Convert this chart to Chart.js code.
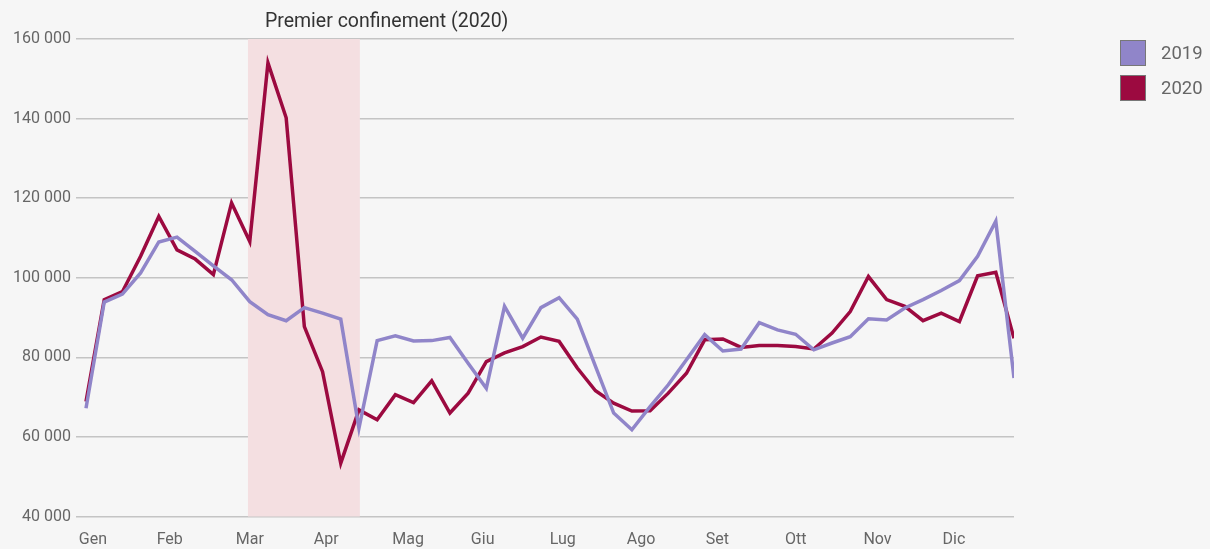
<!DOCTYPE html>
<html>
<head>
<meta charset="utf-8">
<script src="https://cdn.jsdelivr.net/npm/chart.js@4"></script>
<style>
    body { margin: 0; background: #f6f6f6; font-family: Roboto, sans-serif; }
    #wrap { position: relative; width: 1210px; height: 549px; }
    #legenda { position: absolute; left: 1120px; top: 40px; }
    .item { display: flex; align-items: center; height: 26px; margin-bottom: 9px; }
    .kotak { width: 26px; height: 26px; box-sizing: border-box; border: 1.5px solid #777; }
    .label { margin-left: 15px; font-size: 18.5px; color: #666; }
</style>
</head>
<body>
<div id="wrap">
    <canvas id="grafik"></canvas>
    <div id="legenda"></div>
</div>
<script>
// Dati settimanali
const tahun = ['2019', '2020'];
const nilai2019 = [67200, 93900, 95900, 101200, 109000, 110200, 106600, 103000, 99500, 94000, 90700, 89200, 92500, 91100, 89600, 62200, 84200, 85400, 84100, 84200, 85000, 78500, 72200, 92800, 84800, 92500, 95000, 89600, 77700, 66000, 61800, 67600, 73100, 79400, 85700, 81600, 82100, 88700, 86900, 85800, 81900, 83600, 85200, 89700, 89400, 92400, 94500, 96800, 99300, 105400, 114200, 74800];
const nilai2020 = [68900, 94500, 96500, 105400, 115400, 107000, 104700, 100800, 118800, 109100, 154000, 140200, 87700, 76400, 53400, 66800, 64300, 70600, 68600, 74100, 66000, 71000, 78900, 81100, 82700, 85100, 84000, 77300, 71600, 68500, 66500, 66600, 71000, 76000, 84400, 84600, 82500, 83000, 83000, 82700, 82100, 86100, 91500, 100300, 94500, 92800, 89200, 91100, 89000, 100500, 101400, 84800];

// Etichette mesi (posizione in settimane)
const bulan = ['Gen', 'Feb', 'Mar', 'Apr', 'Mag', 'Giu', 'Lug', 'Ago', 'Set', 'Ott', 'Nov', 'Dic'];
const posisiBulan = [0.38, 4.6, 9.0, 13.2, 17.7, 21.8, 26.2, 30.5, 34.7, 39.0, 43.5, 47.7];
const ticksY = [40000, 60000, 80000, 100000, 120000, 140000, 160000];

// Periodo di confinamento
const judulPita = 'Premier confinement (2020)';
const pita = [8.9, 15.05];

const warna = ['#9085c9', '#9c0a40'];

const pitaPlugin = {
    id: 'pita',
    beforeDatasetsDraw(chart) {
        const { ctx, chartArea, scales } = chart;
        const x1 = scales.x.getPixelForValue(pita[0]);
        const x2 = scales.x.getPixelForValue(pita[1]);
        ctx.save();
        ctx.fillStyle = '#f4dfe1';
        ctx.fillRect(x1, chartArea.top, x2 - x1, chartArea.bottom - chartArea.top);
        ctx.fillStyle = '#333';
        ctx.font = '19.5px Roboto';
        ctx.textAlign = 'left';
        ctx.textBaseline = 'middle';
        ctx.fillText(judulPita, x1 + 17, 22);
        ctx.restore();
    }
};

const ctx = document.getElementById('grafik').getContext('2d');
new Chart(ctx, {
    type: 'line',
    data: {
        datasets: [
            { label: tahun[0], data: nilai2019.map((v, i) => ({ x: i, y: v })), borderColor: warna[0], backgroundColor: warna[0] },
            { label: tahun[1], data: nilai2020.map((v, i) => ({ x: i, y: v })), borderColor: warna[1], backgroundColor: warna[1] }
        ]
    },
    options: {
        responsive: true,
        maintainAspectRatio: false,
        animation: false,
        layout: { padding: { top: 39, right: 196, left: 0, bottom: 0 } },
        elements: {
            line: { borderWidth: 3.5, tension: 0 },
            point: { radius: 0 }
        },
        scales: {
            x: {
                type: 'linear',
                min: -0.55,
                max: 51,
                grid: { display: false, drawTicks: false },
                border: { display: false },
                afterBuildTicks: scale => { scale.ticks = posisiBulan.map(v => ({ value: v })); },
                afterFit: scale => { scale.height = 32.5; },
                ticks: {
                    autoSkip: false,
                    maxRotation: 0,
                    padding: 14,
                    color: '#666',
                    font: { family: 'Roboto', size: 16 },
                    callback: (value, index) => bulan[index]
                }
            },
            y: {
                min: 40000,
                max: 160000,
                afterBuildTicks: scale => { scale.ticks = ticksY.map(v => ({ value: v })); },
                afterFit: scale => { scale.width = 76; },
                grid: { color: '#c4c4c4', lineWidth: 1.5, drawTicks: false },
                border: { display: false },
                ticks: {
                    padding: 5,
                    color: '#666',
                    font: { family: 'Roboto', size: 16 },
                    callback: value => value.toLocaleString('en-US').replace(/,/g, ' ')
                }
            }
        },
        plugins: {
            legend: { display: false },
            tooltip: { enabled: false }
        }
    },
    plugins: [pitaPlugin]
});

// Legenda
document.getElementById('legenda').innerHTML = tahun.map((t, i) => `
    <div class="item">
        <div class="kotak" style="background:${warna[i]}"></div>
        <span class="label">${t}</span>
    </div>
`).join('');
</script>
</body>
</html>
